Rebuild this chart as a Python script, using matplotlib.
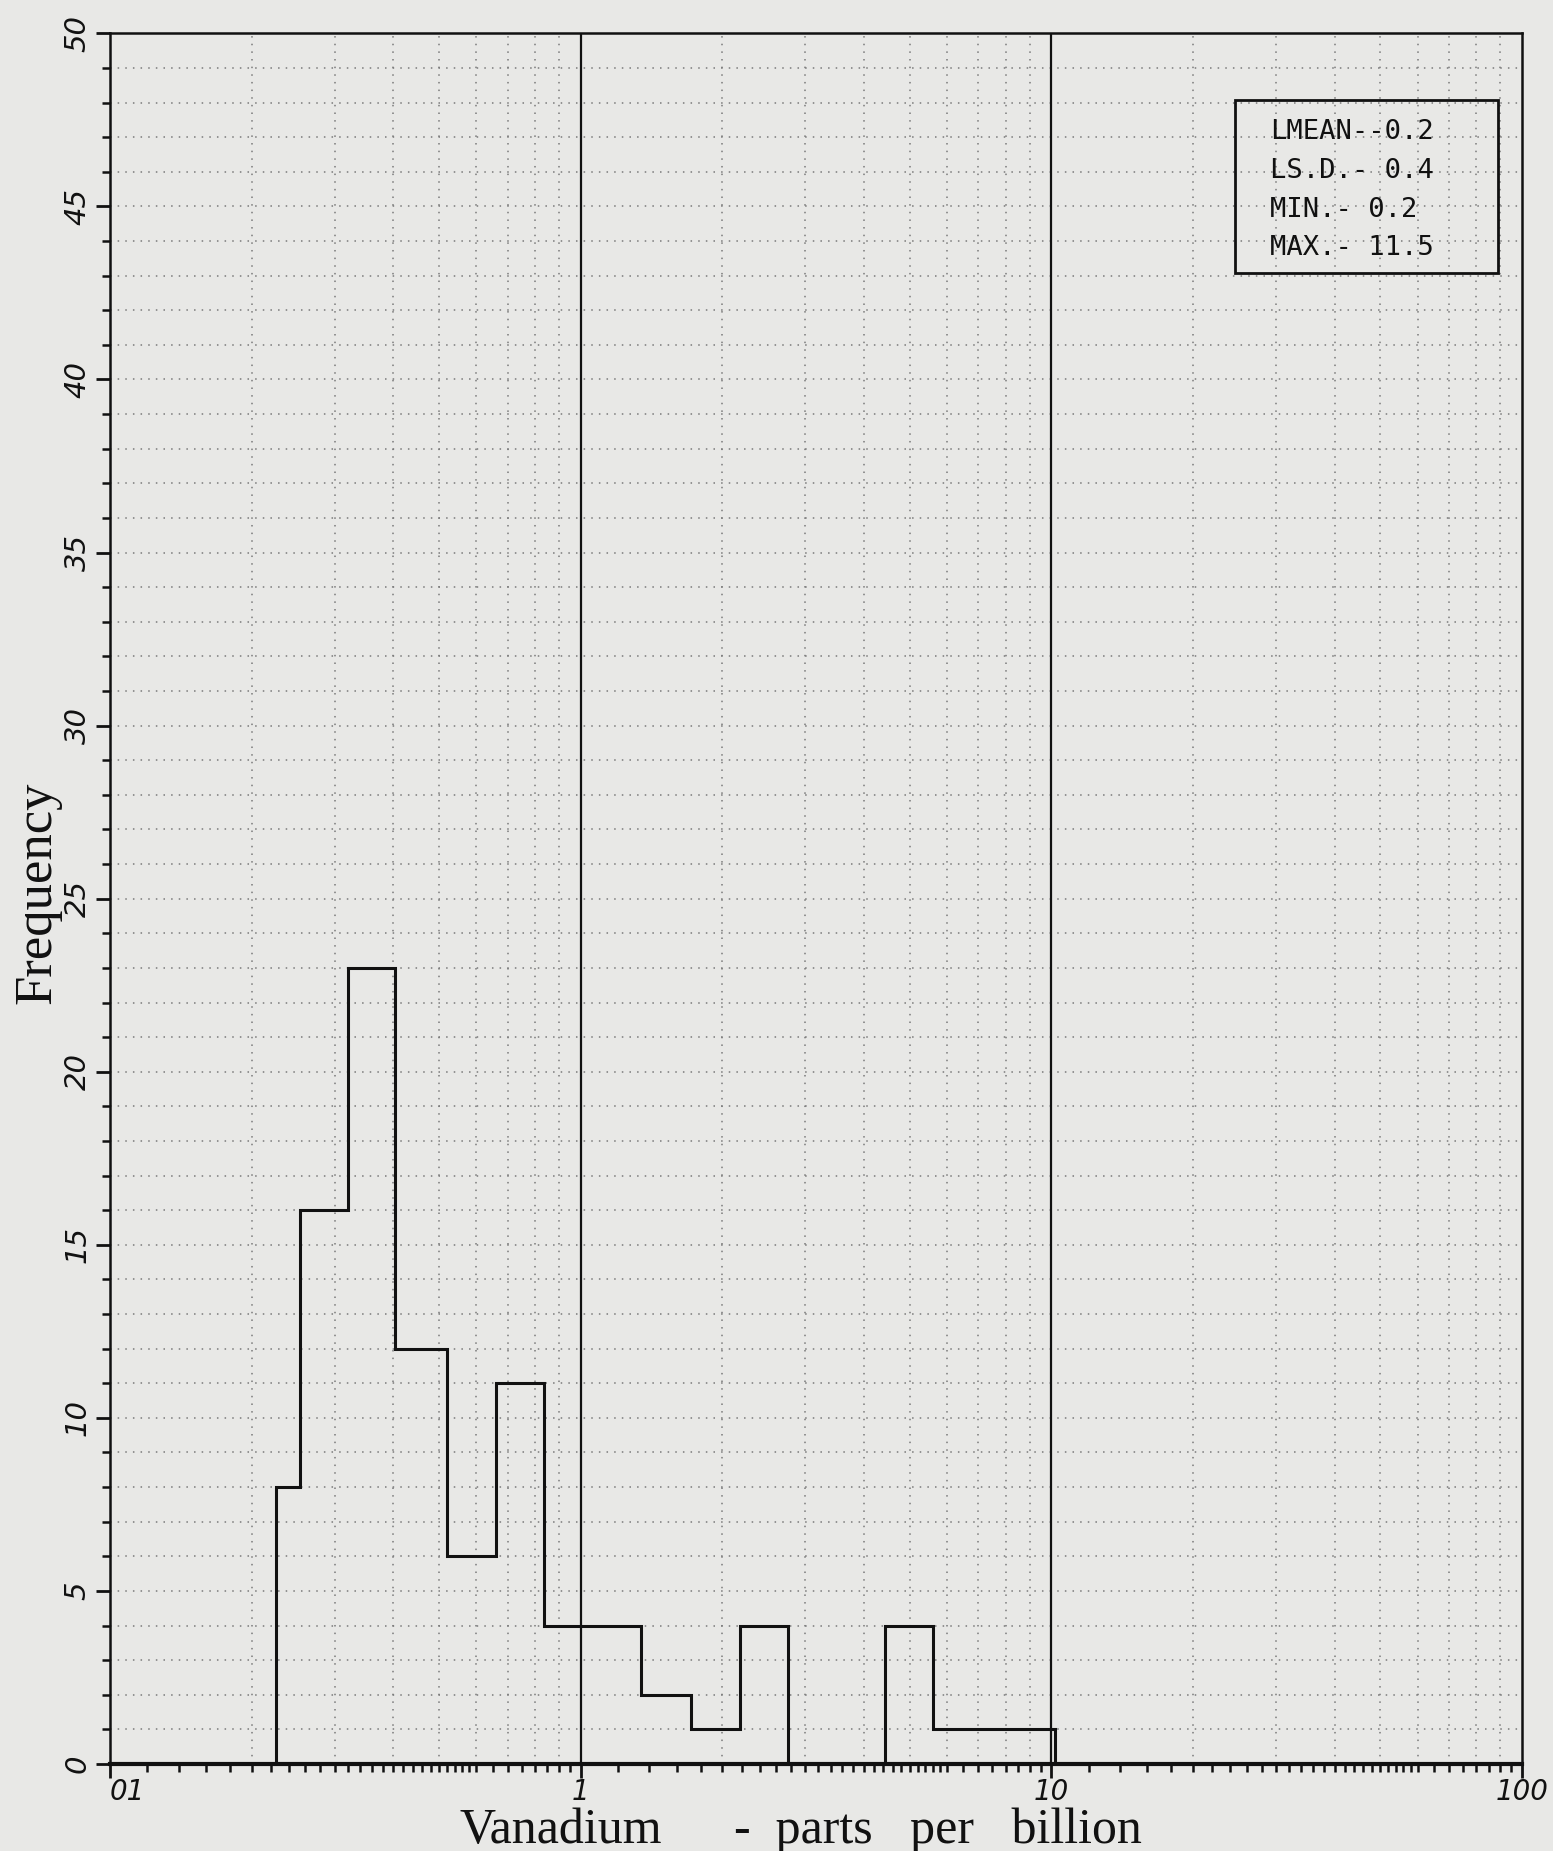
import numpy as np
import matplotlib.pyplot as plt
from matplotlib.patches import Rectangle

# values (log-spaced bins)
bin_edges = [0.2255, 0.253, 0.32, 0.403, 0.52, 0.66, 0.835, 1.06, 1.345,
             1.715, 2.18, 2.76, 3.5, 4.44, 5.62, 7.1, 9.0, 10.2]
counts = [8, 16, 23, 12, 6, 11, 4, 4, 2, 1, 4, 0, 0, 4, 1, 1, 1]

stats_lines = ["LMEAN--0.2", "LS.D.- 0.4", "MIN.- 0.2", "MAX.- 11.5"]
x_major = [0.1, 1, 10, 100]
x_labels = ["01", "1", "10", "100"]
y_major = list(range(0, 51, 5))
ref_lines = [1, 10]

bg = "#e8e8e6"
ink = "#111111"

fig = plt.figure(figsize=(15.53, 18.51), dpi=100, facecolor=bg)
ax = fig.add_axes([0.0708, 0.047, 0.9092, 0.935])
ax.set_facecolor(bg)
ax.set_xscale("log")
ax.set_xlim(0.1, 100)
ax.set_ylim(0, 50)

# dotted paper grid
minor_x = [d * k for d in (0.1, 1, 10) for k in range(2, 10)]
ax.vlines(minor_x, 0, 50, colors="#7a7a7a", linestyles=(0, (1, 4)), lw=1.1, zorder=1)
ax.hlines(range(1, 50), 0.1, 100, colors="#7a7a7a", linestyles=(0, (1, 4)), lw=1.1, zorder=1)
ax.vlines(ref_lines, 0, 50, colors=ink, lw=1.6, zorder=2)

ax.stairs(counts, bin_edges, baseline=0, color=ink, lw=2.2, zorder=3)

# ticks
ax.set_xticks(x_major)
ax.set_xticklabels(x_labels, fontsize=20, fontstyle="italic")
tick_minor = []
for d in (0.1, 1, 10):
    tick_minor += [d * v for v in np.arange(1.2, 6.0, 0.2)]
    tick_minor += [d * v for v in np.arange(6.0, 10.0, 0.5)]
ax.set_xticks(tick_minor, minor=True)
ax.set_xticklabels([], minor=True)
for lab in ax.get_xticklabels():
    lab.set_horizontalalignment("left" if lab.get_text() == "01" else "center")

ax.set_yticks(y_major)
ax.set_yticklabels([str(v) for v in y_major], fontsize=21, fontstyle="italic",
                   rotation=90, va="center")
ax.set_yticks(range(0, 51), minor=True)

ax.tick_params(axis="both", which="major", direction="out", length=10, width=2,
               color=ink, labelcolor=ink)
ax.tick_params(axis="both", which="minor", direction="out", length=6, width=1.8, color=ink)
ax.tick_params(axis="x", which="major", pad=0)
ax.tick_params(axis="y", which="major", pad=3)

for side, sp in ax.spines.items():
    sp.set_color(ink)
    sp.set_linewidth(1.8)
ax.spines["bottom"].set_linewidth(3)

# axis titles
fig.text(0.024, 0.5175, "Frequency", rotation=90, ha="center", va="center",
         fontsize=38, family="Liberation Serif", color=ink)
fig.text(0.2962, 0.0043, "Vanadium", ha="left", va="baseline",
         fontsize=36, family="Liberation Serif", color=ink)
fig.text(0.4726, 0.0043, "-  parts   per   billion", ha="left", va="baseline",
         fontsize=36, family="Liberation Serif", color=ink)

# statistics box
fig.patches.append(Rectangle((0.7952, 0.8525), 0.1694, 0.0935, transform=fig.transFigure,
                             fill=False, edgecolor=ink, lw=2))
line_y = [132, 171, 210, 248]
for txt, yy in zip(stats_lines, line_y):
    fig.text(0.8178, 1 - yy / 1851, txt, ha="left", va="center", fontsize=19.5,
             family="DejaVu Sans Mono", color=ink)

fig.savefig("out.png", dpi=100, facecolor=bg)
